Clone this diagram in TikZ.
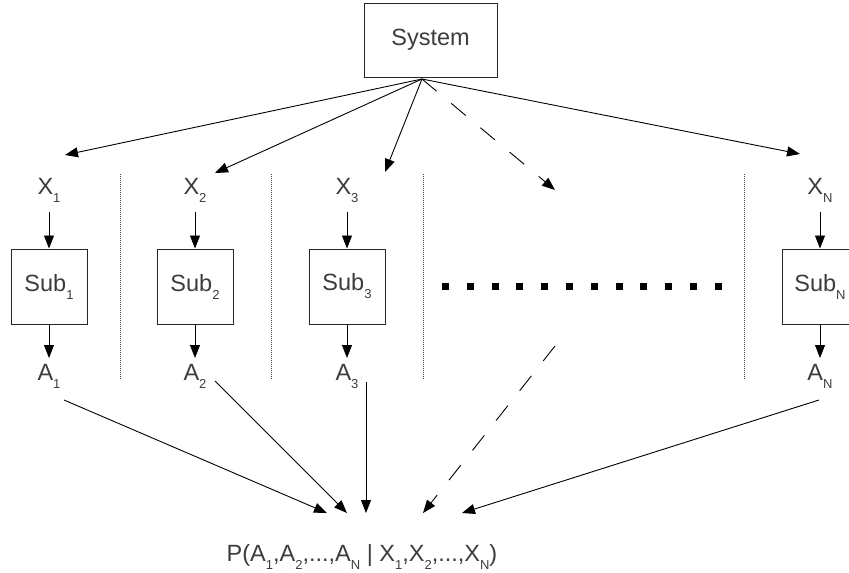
\documentclass[tikz,border=0pt]{standalone}
\usepackage{fontspec}
\setmainfont{Liberation Sans}
\usetikzlibrary{arrows.meta,calc}
\definecolor{txt}{HTML}{3C3C3C}
\newcommand{\mysub}[1]{\raisebox{-8pt}{\fontsize{13}{13}\selectfont #1}}
\tikzset{
  lbl/.style={font=\fontsize{23.5}{23.5}\selectfont, text=txt, inner sep=0pt},
  box/.style={lbl, draw=black!85, line width=1pt, minimum width=76pt, minimum height=75pt},
  arr/.style={line width=0.9pt, -{Triangle[length=13pt,width=10pt]}},
  dsh/.style={arr, dash pattern=on 19pt off 19pt},
  sep/.style={line width=1pt, draw=black!75, dash pattern=on 1pt off 1pt}
}
\begin{document}
\begin{tikzpicture}[x=1pt,y=-1pt]
\clip (0,0) rectangle (849,573);
% system
\node[box, minimum width=133pt, minimum height=74pt] (sys) at (430.5,40) {System};
\coordinate (apex) at (422,79);
\coordinate (t1) at (65,155);
\coordinate (t2) at (215,173);
\coordinate (t3) at (385,172);
\coordinate (t4) at (555,190);
\coordinate (t5) at (800,154);
\draw[arr] (apex) -- (t1);
\draw[arr] (apex) -- (t2);
\draw[arr] (apex) -- (t3);
\draw[dsh] (apex) -- (t4);
\draw[arr] (apex) -- (t5);
% columns
\foreach \i/\cx/\s in {1/49/1, 2/195/2, 3/347/3, N/820/N}{
  \node[lbl, anchor=base] (x\i) at (\cx,194) {X\mysub{\s}};
  \node[box] (s\i) at (\cx,286.5) {Sub\mysub{\s}};
  \node[lbl, anchor=base] (a\i) at (\cx,380) {A\mysub{\s}};
  \draw[arr] ([yshift=-18pt]x\i.base) -- (s\i.north);
  \draw[arr] (s\i.south) -- ([yshift=22pt]a\i.base);
}
% separators
\foreach \xx in {120,271.5,423,744}{
  \draw[sep] (\xx,174) -- (\xx,380);
}
% ellipsis squares
\foreach \k in {0,...,11}{
  \fill ({442+24.8*\k},282.5) rectangle ++(7,7);
}
% result
\node[lbl, anchor=base] (p) at (362,561) {P(A\mysub{1},A\mysub{2},...,A\mysub{N} | X\mysub{1},X\mysub{2},...,X\mysub{N})};
\coordinate (b1) at (327,513);
\coordinate (b2) at (347,513);
\coordinate (b3) at (366,513);
\coordinate (b4) at (423,513);
\coordinate (b5) at (462,513);
\coordinate (d0) at (555,346);
\draw[arr] ($(a1.base)+(15,20)$) -- (b1);
\draw[arr] ($(a2.base)+(20,1)$) -- (b2);
\draw[arr] ($(a3.base)+(19,2)$) -- (b3);
\draw[dsh] (d0) -- (b4);
\draw[arr] ($(aN.base)+(-1,20)$) -- (b5);
\end{tikzpicture}
\end{document}
